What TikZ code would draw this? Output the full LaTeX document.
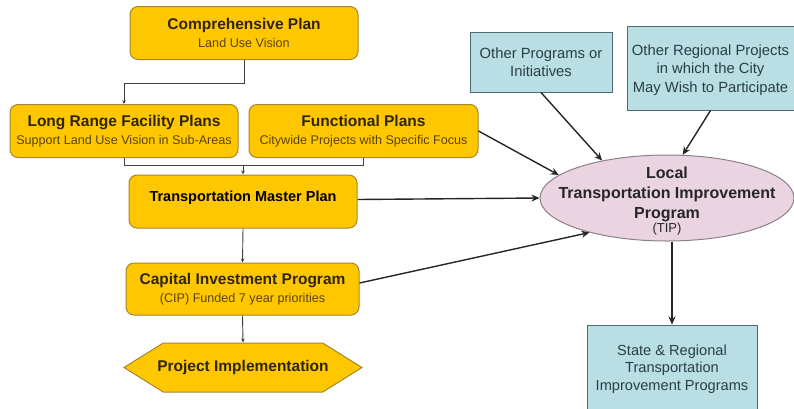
\documentclass[tikz,border=0pt]{standalone}
\usepackage{fontspec}
\setmainfont{Liberation Sans}
\usetikzlibrary{shapes.geometric,shapes.symbols,arrows.meta}
\definecolor{ybox}{HTML}{FFC700}
\definecolor{yedge}{HTML}{A8862A}
\definecolor{ytitle}{HTML}{2E2410}
\definecolor{ysub}{HTML}{5A4410}
\definecolor{bbox}{HTML}{B9DEE4}
\definecolor{bedge}{HTML}{506A72}
\definecolor{btext}{HTML}{2A3E48}
\definecolor{pfill}{HTML}{EAD4E1}
\definecolor{pedge}{HTML}{8C8088}
\newcommand{\ttl}[1]{{\fontsize{15.5}{18}\selectfont\bfseries #1}}
\newcommand{\sbt}[1]{{\fontsize{12.6}{18}\selectfont\color{ysub} #1}}
\tikzset{
  ybx/.style={draw=yedge, line width=1pt, fill=ybox, rounded corners=8pt, minimum width=228pt, minimum height=53pt, align=center, text=ytitle, inner sep=1pt, font=\fontsize{12}{18.5}\selectfont},
  bbx/.style={draw=bedge, line width=1pt, fill=bbox, align=center, text=btext, font=\fontsize{14.8}{18.5}\selectfont, inner sep=1pt},
  tree/.style={draw=black!75, line width=0.9pt},
  treearr/.style={tree, -{Stealth[length=4pt,width=3.5pt]}},
  bigarr/.style={draw=black!85, line width=1.4pt, -{Stealth[length=8pt,width=7pt]}}
}
\begin{document}
\begin{tikzpicture}[x=1pt,y=-1pt]
\useasboundingbox (0,0) rectangle (794,408);
\node[ybx] (comp) at (244,33) {\ttl{Comprehensive Plan}\\\sbt{Land Use Vision}};
\node[ybx] (lrfp) at (124,131) {\ttl{Long Range Facility Plans}\\\sbt{Support Land Use Vision in Sub-Areas}};
\node[ybx, minimum width=229pt] (func) at (363.5,131) {\ttl{Functional Plans}\\\sbt{Citywide Projects with Specific Focus}};
\node[ybx, text=black, font=\fontsize{14.5}{14}\selectfont\bfseries] (tmp) at (243,201.5) {Transportation Master Plan\\[-3pt]\mbox{}};
\node[ybx, minimum width=233pt, minimum height=52pt] (cip) at (242.5,289) {\ttl{Capital Investment Program}\\\sbt{(CIP) Funded 7 year priorities}};
\node[draw=yedge, line width=1pt, fill=ybox, shape=signal, signal to=west and east, signal pointer angle=64, minimum width=238pt, minimum height=49pt, inner ysep=0pt, inner xsep=-6pt, text=ytitle, font=\fontsize{15.5}{18}\selectfont\bfseries] (impl) at (243,367.5) {Project Implementation};
\node[bbx, minimum width=142pt, minimum height=60pt] (other) at (541,62) {Other Programs or\\Initiatives};
\node[bbx, minimum width=167pt, minimum height=84pt] (reg) at (710.5,68) {\rule{0pt}{15pt}Other Regional Projects\\in which the City\\May Wish to Participate};
\node[draw=pedge, line width=1pt, fill=pfill, ellipse, minimum width=254pt, minimum height=86pt, inner xsep=-28pt, inner ysep=-9pt, align=center, text=black!85, font=\fontsize{16}{20}\selectfont\bfseries] (tip) at (667,198) {\rule{0pt}{17pt}Local\\Transportation Improvement\\Program\\[-6pt]{\fontsize{13}{14}\mdseries\selectfont (TIP)}};
\node[bbx, minimum width=170pt, minimum height=88pt, font=\fontsize{14.6}{17.5}\selectfont] (state) at (672,369) {State \& Regional\\Transportation\\Improvement Programs};
% tree connectors
\draw[treearr] (comp.south) -- ++(0,23) -| (lrfp.north);
\draw[tree] (lrfp.south) -- ++(0,7) -| (func.south);
\coordinate (mid) at (243,165);
\draw[treearr] (mid) -- (tmp.north);
\draw[treearr] (tmp.south) -- (cip.north);
\draw[treearr] (cip.south) -- (impl.north);
% big arrows
\draw[bigarr] (func.east) -- (tip.168);
\draw[bigarr] ([yshift=2pt]tmp.east) -- (tip.west);
\draw[bigarr] ([yshift=6pt]cip.east) -- (tip.204);
\draw[bigarr] (other.south) -- (tip.150);
\draw[bigarr] (reg.south) -- (tip.70);
\draw[bigarr] (tip.south -| state.north) -- (state.north);
\end{tikzpicture}
\end{document}
